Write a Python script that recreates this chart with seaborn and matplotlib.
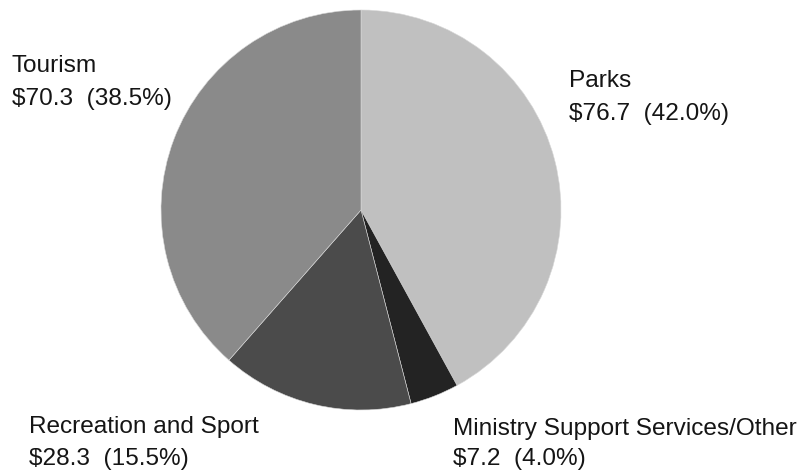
import matplotlib
matplotlib.use("Agg")
import matplotlib.pyplot as plt
import seaborn as sns

# Spending by program area ($ millions) and share of total (%)
categories = ["Parks", "Ministry Support Services/Other", "Recreation and Sport", "Tourism"]
amounts = [76.7, 7.2, 28.3, 70.3]
shares = [42.0, 4.0, 15.5, 38.5]
colors = ["#c0c0c0", "#232323", "#4b4b4b", "#8a8a8a"]

sns.set_theme(style="white")
plt.rcParams["font.family"] = ["Liberation Sans", "DejaVu Sans"]

W, H = 810, 470
fig = plt.figure(figsize=(W / 100, H / 100), dpi=100)
fig.patch.set_facecolor("white")

# Pie centred at (361, 210) px from top-left, radius 200 px
cx, cy, r = 361, 210, 200
ax = fig.add_axes([(cx - r) / W, (H - cy - r) / H, 2 * r / W, 2 * r / H])
ax.pie(amounts, colors=colors, startangle=90, counterclock=False, radius=1,
       wedgeprops=dict(edgecolor="#d8d8d8", linewidth=0.4))
ax.set_xlim(-1, 1)
ax.set_ylim(-1, 1)
ax.set_aspect("equal")
ax.axis("off")

# label anchor: left x, baseline of first line, baseline of second line (px from top-left)
anchors = {
    "Parks": (569, 87, 120),
    "Ministry Support Services/Other": (453, 435, 465),
    "Recreation and Sport": (29, 433, 465),
    "Tourism": (12, 72, 105),
}
fs = 17.6
for name, val, pct in zip(categories, amounts, shares):
    x, y1, y2 = anchors[name]
    fig.text(x / W, 1 - y1 / H, name, fontsize=fs, color="#151515",
             ha="left", va="baseline")
    fig.text(x / W, 1 - y2 / H, f"\\${val:.1f}  ({pct:.1f}%)",
             fontsize=fs, color="#151515", ha="left", va="baseline")

fig.savefig("out.png", dpi=100, facecolor="white")
